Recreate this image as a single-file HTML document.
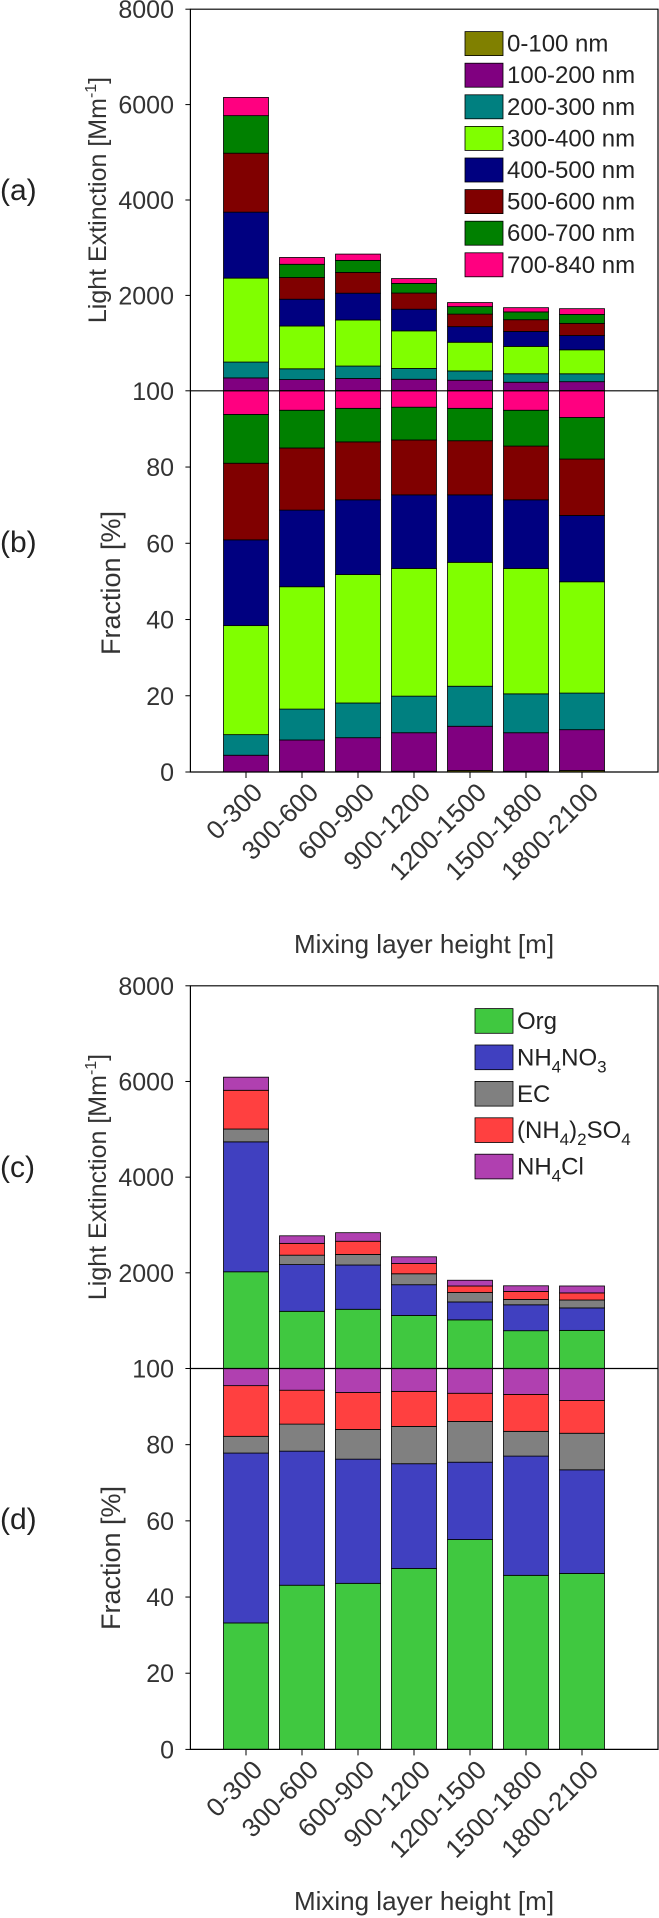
<!DOCTYPE html>
<html><head><meta charset="utf-8"><style>
html,body{margin:0;padding:0;background:#fff}
svg{display:block;font-family:"Liberation Sans",Arial,sans-serif}
</style></head><body>
<svg id="chart" width="659" height="1918" viewBox="0 0 659 1918" xmlns="http://www.w3.org/2000/svg"></svg>
<script>
const categories = ["0-300","300-600","600-900","900-1200","1200-1500","1500-1800","1800-2100"];
// Panel (a)/(b): size bins
const sizeBins = ["0-100 nm","100-200 nm","200-300 nm","300-400 nm","400-500 nm","500-600 nm","600-700 nm","700-840 nm"];
const sizeColors = ["#808000","#800080","#008080","#80ff00","#000080","#800000","#008000","#ff0080"];
const totalsA = [6150, 2795, 2866, 2353, 1850, 1743, 1722];
const s0_100   = [0, 0.2, 0.2, 0.2, 0.4, 0.2, 0.4];
const s100_200 = [4.4, 8.2, 8.8, 10.1, 11.6, 10.1, 10.7];
const s200_300 = [5.4, 8.1, 9.1, 9.6, 10.5, 10.2, 9.6];
const s300_400 = [28.6, 32.1, 33.7, 33.5, 32.5, 32.9, 29.2];
const s400_500 = [22.5, 20.1, 19.6, 19.3, 17.7, 18.0, 17.4];
const s500_600 = [20.1, 16.3, 15.2, 14.4, 14.2, 14.1, 14.8];
const s600_700 = [12.8, 9.9, 8.8, 8.6, 8.5, 9.4, 10.9];
const s700_840 = [6.2, 5.1, 4.6, 4.3, 4.6, 5.1, 7.0];
const sizeSeries = [s0_100,s100_200,s200_300,s300_400,s400_500,s500_600,s600_700,s700_840];
// Panel (c)/(d): species
const species = ["Org","NH4NO3","EC","(NH4)2SO4","NH4Cl"];
const speciesColors = ["#40c840","#4040c0","#808080","#ff4040","#b040b0"];
const totalsC = [6090, 2774, 2839, 2335, 1845, 1729, 1725];
const org   = [33.2, 43.1, 43.6, 47.5, 55.1, 45.7, 46.2];
const nh4no3= [44.6, 35.2, 32.6, 27.5, 20.3, 31.3, 27.2];
const ec    = [4.4, 7.1, 7.8, 9.8, 10.7, 6.5, 9.6];
const so4   = [13.3, 8.9, 9.7, 9.2, 7.4, 9.7, 8.6];
const nh4cl = [4.5, 5.7, 6.3, 6.0, 6.5, 6.8, 8.4];
const speciesSeries = [org,nh4no3,ec,so4,nh4cl];
const upperTicks = [2000,4000,6000,8000];
const lowerTicks = [0,20,40,60,80];

const NS="http://www.w3.org/2000/svg";
const svg=document.getElementById('chart');
function mk(tag,attrs,parent){const e=document.createElementNS(NS,tag);for(const k in attrs)e.setAttribute(k,attrs[k]);(parent||svg).appendChild(e);return e;}

const X0=190.4, XR=658, C0=246, STEP=56.0, BW=45;
function xPos(i){return C0+i*STEP;}

function drawPanel(p){
  const g=mk('g',{});
  
  
  const yU=v=>p.mid-(v/8000)*(p.mid-p.top);
  const yL=v=>p.bot-(v/100)*(p.bot-p.mid);
  categories.forEach((c,i)=>{
    let accU=0, accL=0;
    p.series.forEach((s,k)=>{
      const f=s[i];
      const vU=p.totals[i]*f/100;
      const r1=mk('rect',{x:xPos(i)-BW/2,y:yU(accU+vU),width:BW,height:Math.max(0,yU(accU)-yU(accU+vU)),fill:p.colors[k],stroke:'#000','stroke-width':0.8},g);
      
      
      const r2=mk('rect',{x:xPos(i)-BW/2,y:yL(accL+f),width:BW,height:Math.max(0,yL(accL)-yL(accL+f)),fill:p.colors[k],stroke:'#000','stroke-width':0.8},g);
      
      
      accU+=vU; accL+=f;
    });
  });
  mk('path',{d:`M${X0} ${p.top}H${XR}V${p.bot}H${X0}Z`,fill:'none',stroke:'#000','stroke-width':1.2},g);
  mk('line',{x1:X0,x2:XR,y1:p.mid,y2:p.mid,stroke:'#000','stroke-width':1.2},g);
  const ts='font-size:25px;fill:#333';
  upperTicks.forEach(t=>{
    mk('line',{x1:X0-5,x2:X0,y1:yU(t),y2:yU(t),stroke:'#000'},g);
    const tx=mk('text',{x:174,y:yU(t)+9,'text-anchor':'end',style:ts},g);tx.textContent=t;
    
    
  });
  mk('line',{x1:X0-5,x2:X0,y1:p.mid,y2:p.mid,stroke:'#000'},g);
  const t100=mk('text',{x:174,y:p.mid+9,'text-anchor':'end',style:ts},g);t100.textContent='100';
  
  
  lowerTicks.forEach(t=>{
    mk('line',{x1:X0-5,x2:X0,y1:yL(t),y2:yL(t),stroke:'#000'},g);
    const tx=mk('text',{x:174,y:yL(t)+9,'text-anchor':'end',style:ts},g);tx.textContent=t;
    
    
  });
  categories.forEach((c,i)=>{
    mk('line',{x1:xPos(i),x2:xPos(i),y1:p.bot,y2:p.bot+6,stroke:'#000'},g);
    const ax=xPos(i)+18, ay=p.bot+22;
    const tx=mk('text',{x:ax,y:ay,'text-anchor':'end',transform:`rotate(-45 ${ax} ${ay})`,style:'font-size:26px;fill:#333'},g);
    tx.textContent=c;
    
    
  });
  const xt=mk('text',{x:424,y:p.xTitleY,'text-anchor':'middle',style:'font-size:26px;fill:#333'},g);
  xt.textContent='Mixing layer height [m]';
  
  
  const yt=mk('text',{x:0,y:0,'text-anchor':'middle',transform:`translate(106 ${p.upTitleY}) rotate(-90)`,style:'font-size:25px;fill:#333'},g);
  yt.innerHTML='Light Extinction [Mm<tspan dy="-10" font-size="16">-1</tspan><tspan dy="10">]</tspan>';
  
  
  const yf=mk('text',{x:0,y:0,'text-anchor':'middle',transform:`translate(120 ${p.frTitleY}) rotate(-90)`,style:'font-size:27px;fill:#333'},g);
  yf.textContent='Fraction [%]';
  
  
  const la=mk('text',{x:0,y:p.labA+11,style:'font-size:30px;fill:#222'},g);la.textContent=p.pl[0];
  
  
  const lb=mk('text',{x:0,y:p.labB+11,style:'font-size:30px;fill:#222'},g);lb.textContent=p.pl[1];
  
  
  p.labels.forEach((l,k)=>{
    const y=p.legY+k*p.legStep;
    const lg=mk('g',{},g);
    
    
    mk('rect',{x:p.legX,y:y,width:38,height:p.legH,fill:p.colors[k],stroke:'#000','stroke-width':0.8},lg);
    const tx=mk('text',{x:p.legX+42,y:y+p.legH/2+8,style:'font-size:24px;fill:#222'},lg);
    tx.innerHTML=p.legHtml?p.legHtml[k]:l;
  });
}
drawPanel({name:'size',top:9.2,mid:390.8,bot:772,totals:totalsA,series:sizeSeries,colors:sizeColors,labels:sizeBins,
  xTitleY:953,upTitleY:200,frTitleY:583,labA:189,labB:541,pl:['(a)','(b)'],legX:465,legY:31.6,legStep:31.6,legH:24});
drawPanel({name:'species',top:985.8,mid:1368.5,bot:1749.4,totals:totalsC,series:speciesSeries,colors:speciesColors,labels:species,
  xTitleY:1910,upTitleY:1177,frTitleY:1558,labA:1166,labB:1518,pl:['(c)','(d)'],legX:475,legY:1008.6,legStep:36.4,legH:24.7,
  legHtml:['Org','NH<tspan dy="7" font-size="17">4</tspan><tspan dy="-7">NO</tspan><tspan dy="7" font-size="17">3</tspan>','EC',
  '(NH<tspan dy="7" font-size="17">4</tspan><tspan dy="-7">)</tspan><tspan dy="7" font-size="17">2</tspan><tspan dy="-7">SO</tspan><tspan dy="7" font-size="17">4</tspan>',
  'NH<tspan dy="7" font-size="17">4</tspan><tspan dy="-7">Cl</tspan>']});
</script>
</body></html>
